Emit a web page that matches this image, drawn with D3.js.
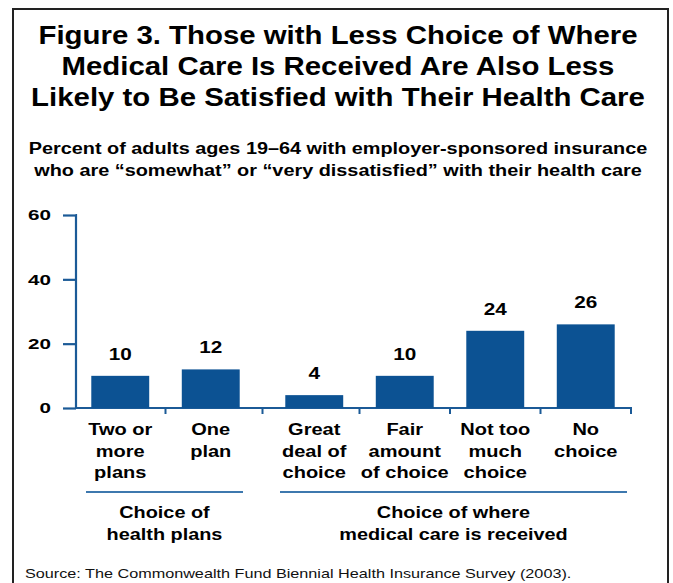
<!DOCTYPE html>
<html>
<head>
<meta charset="utf-8">
<script src="https://cdn.jsdelivr.net/npm/d3@7"></script>
<style>
  html, body { margin: 0; padding: 0; background: #fff; }
  svg { display: block; font-family: "Liberation Sans", Arial, sans-serif; }
</style>
</head>
<body>
<svg id="chart" width="673" height="583"></svg>
<script>
// Chart data
const titleLines = [
  "Figure 3. Those with Less Choice of Where",
  "Medical Care Is Received Are Also Less",
  "Likely to Be Satisfied with Their Health Care"
];
const subtitleLines = [
  "Percent of adults ages 19\u201364 with employer-sponsored insurance",
  "who are \u201csomewhat\u201d or \u201cvery dissatisfied\u201d with their health care"
];
const groupNames = [
  ["Choice of", "health plans"],
  ["Choice of where", "medical care is received"]
];
const planCategories = [["Two or", "more", "plans"], ["One", "plan"]];
const planValues = [10, 12];
const careCategories = [["Great", "deal of", "choice"], ["Fair", "amount", "of choice"], ["Not too", "much", "choice"], ["No", "choice"]];
const careValues = [4, 10, 24, 26];
const yTicks = [0, 20, 40, 60];
const sourceText = "Source: The Commonwealth Fund Biennial Health Insurance Survey (2003).";

const barColor = "#0c5293";
const axisColor = "#1b5a97";
const ruleColor = "#3d78ae";

const svg = d3.select("#chart");

// The lettering is set a little wider than the regular face
function widen(sel, k) {
  sel.each(function () {
    const w = this.getComputedTextLength();
    d3.select(this).attr("textLength", w * k).attr("lengthAdjust", "spacingAndGlyphs");
  });
}

// Outer frame
svg.append("rect")
  .attr("x", 13).attr("y", 9)
  .attr("width", 655).attr("height", 590)
  .attr("fill", "none").attr("stroke", "#222").attr("stroke-width", 2);

// Title
svg.append("g").selectAll("text").data(titleLines).join("text")
  .attr("x", 338).attr("y", (d, i) => 44 + i * 31)
  .attr("text-anchor", "middle")
  .attr("font-size", 25).attr("font-weight", "bold").attr("fill", "#000")
  .text(d => d)
  .call(widen, 1.175);

// Subtitle
svg.append("g").selectAll("text").data(subtitleLines).join("text")
  .attr("x", 338).attr("y", (d, i) => 154 + i * 22)
  .attr("text-anchor", "middle")
  .attr("font-size", 16).attr("font-weight", "bold").attr("fill", "#000")
  .text(d => d)
  .call(widen, 1.24);

// Scales
const y = d3.scaleLinear().domain([0, 60]).range([408, 215]);

const groups = [
  { cats: planCategories, vals: planValues, range: [75, 256], rule: [86, 243], name: groupNames[0] },
  { cats: careCategories, vals: careValues, range: [269, 631], rule: [280, 627], name: groupNames[1] }
];

groups.forEach(g => {
  g.x = d3.scaleBand()
    .domain(g.cats.map((c, i) => i))
    .range(g.range)
    .paddingInner(0.36)
    .paddingOuter(0.18);
});

// Y axis
const yAxis = d3.axisLeft(y).tickValues(yTicks).tickSize(13).tickPadding(12);
const yG = svg.append("g").attr("transform", "translate(76,0)").call(yAxis);
yG.select(".domain").attr("stroke", axisColor).attr("stroke-width", 2.2)
  .attr("d", `M-0.5,${y(60)}H0V${y(0)}`);
yG.selectAll(".tick line").attr("stroke", axisColor).attr("stroke-width", 2.2);
yG.selectAll(".tick text")
  .attr("font-family", "Liberation Sans, Arial, sans-serif")
  .attr("font-size", 15.5).attr("font-weight", "bold").attr("fill", "#000")
  .call(widen, 1.33);

// Baseline
svg.append("line")
  .attr("x1", 75).attr("x2", 632)
  .attr("y1", y(0)).attr("y2", y(0))
  .attr("stroke", axisColor).attr("stroke-width", 2.2);

// Bars, value labels, category labels, ticks
groups.forEach((g, gi) => {
  const gEl = svg.append("g");
  const idx = g.cats.map((c, i) => i);
  const cx = i => g.x(i) + g.x.bandwidth() / 2;

  gEl.selectAll("rect").data(idx).join("rect")
    .attr("x", i => g.x(i))
    .attr("y", i => y(g.vals[i]))
    .attr("width", g.x.bandwidth())
    .attr("height", i => y(0) - y(g.vals[i]))
    .attr("fill", barColor);

  gEl.selectAll("text.val").data(idx).join("text")
    .attr("class", "val")
    .attr("x", cx)
    .attr("y", i => y(g.vals[i]) - 16)
    .attr("text-anchor", "middle")
    .attr("font-size", 17).attr("font-weight", "bold").attr("fill", "#000")
    .text(i => g.vals[i])
    .call(widen, 1.22);

  // tick marks between neighbouring bars, between the groups and at the end
  const bounds = gi === 0
    ? [ (g.x(0) + g.x.bandwidth() + g.x(1)) / 2, (g.x(1) + g.x.bandwidth() + groups[1].x(0)) / 2 ]
    : idx.map(i => i < g.cats.length - 1 ? (g.x(i) + g.x.bandwidth() + g.x(i + 1)) / 2 : g.range[1]);
  gEl.selectAll("line.tk").data(bounds).join("line")
    .attr("class", "tk")
    .attr("x1", d => d).attr("x2", d => d)
    .attr("y1", y(0)).attr("y2", y(0) + 6)
    .attr("stroke", axisColor).attr("stroke-width", 2);

  // category labels, one text per line
  idx.forEach(i => {
    gEl.append("g").selectAll("text").data(g.cats[i]).join("text")
      .attr("x", cx(i))
      .attr("y", (d, j) => 435 + j * 21.5)
      .attr("text-anchor", "middle")
      .attr("font-size", 16).attr("font-weight", "bold").attr("fill", "#000")
      .text(d => d)
      .call(widen, 1.25);
  });

  // group rule and name
  gEl.append("line")
    .attr("x1", g.rule[0]).attr("x2", g.rule[1])
    .attr("y1", 492).attr("y2", 492)
    .attr("stroke", ruleColor).attr("stroke-width", 2);
  gEl.append("g").selectAll("text").data(g.name).join("text")
    .attr("x", (g.rule[0] + g.rule[1]) / 2)
    .attr("y", (d, j) => 518 + j * 21.5)
    .attr("text-anchor", "middle")
    .attr("font-size", 16).attr("font-weight", "bold").attr("fill", "#000")
    .text(d => d)
    .call(widen, 1.24);
});

// Source note
svg.append("text")
  .attr("x", 25).attr("y", 578)
  .attr("font-size", 13.5).attr("fill", "#111")
  .text(sourceText)
  .call(widen, 1.2);
</script>
</body>
</html>
